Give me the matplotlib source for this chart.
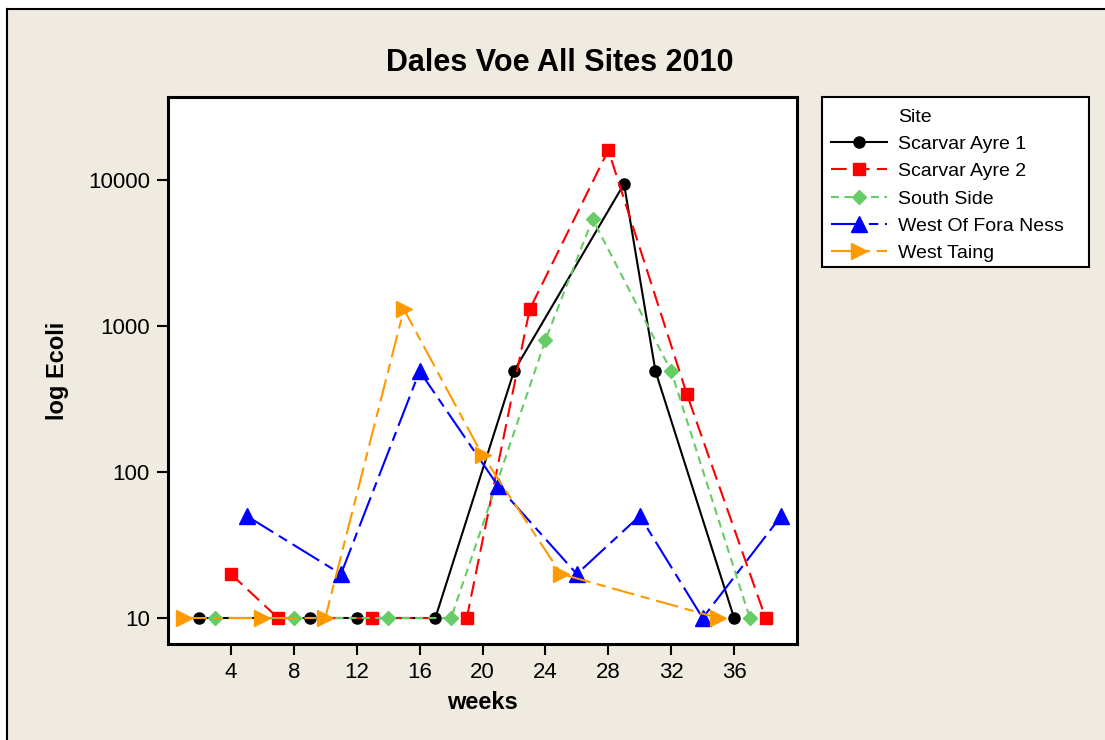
import matplotlib
matplotlib.use("Agg")
import matplotlib.pyplot as plt
from matplotlib.lines import Line2D
from matplotlib.patches import Rectangle
from matplotlib.ticker import FixedLocator, NullLocator, FixedFormatter

# ---- data: E. coli counts per sampling week ----
weeks_sa1 = [2, 9, 12, 17, 22, 29, 31, 36]
ecoli_sa1 = [10, 10, 10, 10, 490, 9400, 490, 10]

weeks_sa2 = [4, 7, 13, 19, 23, 28, 33, 38]
ecoli_sa2 = [20, 10, 10, 10, 1300, 16000, 340, 10]

weeks_ss = [3, 8, 14, 18, 24, 27, 32, 37]
ecoli_ss = [10, 10, 10, 10, 800, 5400, 490, 10]

weeks_wfn = [5, 11, 16, 21, 26, 30, 34, 39]
ecoli_wfn = [50, 20, 490, 80, 20, 50, 10, 50]

weeks_wt = [1, 6, 10, 15, 20, 25, 35]
ecoli_wt = [10, 10, 10, 1300, 130, 20, 10]

site_names = ["Scarvar Ayre 1", "Scarvar Ayre 2", "South Side",
              "West Of Fora Ness", "West Taing"]
x_ticks = [4, 8, 12, 16, 20, 24, 28, 32, 36]
y_ticks = [10, 100, 1000, 10000]
y_tick_labels = ["10", "100", "1000", "10000"]

BG = "#EFEBE1"
FONT = "Liberation Sans"
plt.rcParams["font.family"] = [FONT, "DejaVu Sans"]

W, H = 1105, 740
fig = plt.figure(figsize=(W / 100, H / 100), dpi=100, facecolor="white")


def fx(px):
    return px / W


def fy(py):
    return 1 - py / H


# beige panel with a black edge on its top and left
fig.patches.append(Rectangle((fx(7), 0), 1 - fx(7), fy(9),
                             transform=fig.transFigure, facecolor=BG,
                             edgecolor="none", zorder=-10))
fig.lines.append(Line2D([fx(7), 1], [fy(9), fy(9)],
                        transform=fig.transFigure, color="black", lw=1.5))
fig.lines.append(Line2D([fx(7), fx(7)], [0, fy(9)],
                        transform=fig.transFigure, color="black", lw=1.5))

ax = fig.add_axes([fx(168), fy(644), fx(797) - fx(168), fy(97) - fy(644)])
ax.set_facecolor("white")

series = [
    (weeks_sa1, ecoli_sa1, "black", "o", 8, (None, None)),
    (weeks_sa2, ecoli_sa2, "#FF0000", "s", 8, (7.5, 3.5)),
    (weeks_ss, ecoli_ss, "#66CC66", "D", 7.5, (3.8, 2.6)),
    (weeks_wfn, ecoli_wfn, "#0000FF", "^", 11, (15, 3.2, 4.5, 3.2)),
    (weeks_wt, ecoli_wt, "#FF9900", ">", 11.5, (11, 3.2, 4.5, 3.2)),
]

handles = [Line2D([], [], linestyle="none", marker="none")]
for (xs, ys, col, mk, ms, dash), name in zip(series, site_names):
    ln, = ax.plot(xs, ys, color=col, lw=1.5, marker=mk, markersize=ms,
                  markerfacecolor=col, markeredgecolor=col, label=name)
    if dash[0] is not None:
        ln.set_dashes(dash)
    handles.append(ln)

ax.set_yscale("log")
ax.set_xlim(0, 40.0)
ax.set_ylim(10 ** 0.822, 10 ** 4.568)

ax.xaxis.set_major_locator(FixedLocator(x_ticks))
ax.xaxis.set_minor_locator(NullLocator())
ax.yaxis.set_major_locator(FixedLocator(y_ticks))
ax.yaxis.set_major_formatter(FixedFormatter(y_tick_labels))
ax.yaxis.set_minor_locator(NullLocator())

ax.tick_params(axis="both", direction="out", length=8, width=1.5,
               labelsize=16, pad=5, colors="black")
for sp in ax.spines.values():
    sp.set_linewidth(2.2)
    sp.set_color("black")

ax.set_xlabel("weeks", fontsize=17, fontweight="bold", labelpad=6)
ax.set_ylabel("log Ecoli", fontsize=17, fontweight="bold", labelpad=14)

fig.text(fx(560), fy(63), "Dales Voe All Sites 2010", ha="center",
         va="center", fontsize=22, fontweight="bold")

# legend box drawn as a fixed rectangle, entries placed inside it
fig.patches.append(Rectangle((fx(822), fy(267)), fx(1089) - fx(822),
                             fy(97) - fy(267), transform=fig.transFigure,
                             facecolor="white", edgecolor="black", lw=1.5,
                             zorder=5))
leg = fig.legend(handles=handles, labels=["Site"] + site_names,
                 loc="upper left", bbox_to_anchor=(fx(827), fy(104)),
                 bbox_transform=fig.transFigure, borderaxespad=0,
                 fontsize=14, handlelength=2.9, handletextpad=0.55,
                 labelspacing=0.5, borderpad=0.2, frameon=False)
leg.set_zorder(6)

fig.savefig("out.png", dpi=100, facecolor=fig.get_facecolor())
